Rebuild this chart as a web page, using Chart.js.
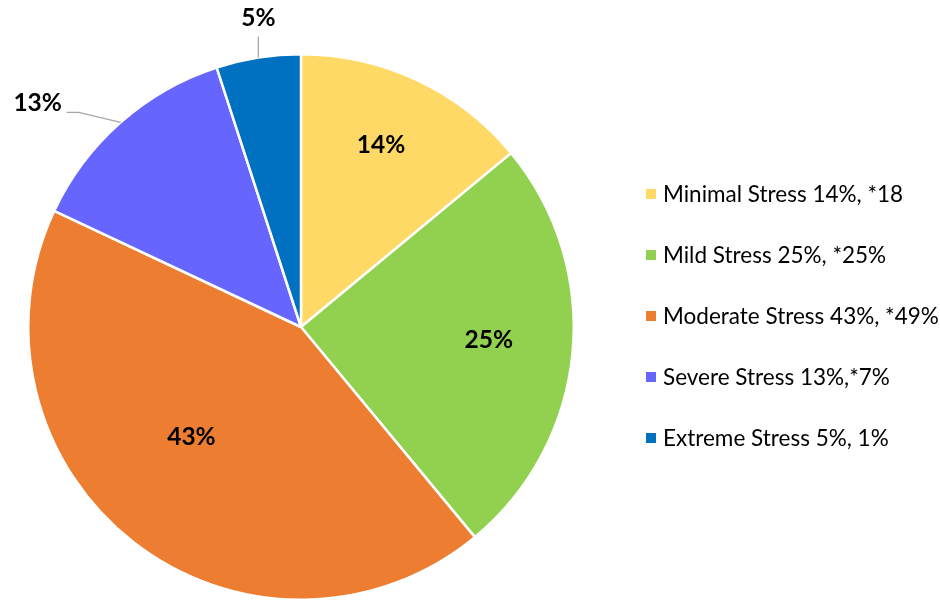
<!DOCTYPE html>
<html>
<head>
<meta charset="utf-8">
<script src="https://cdn.jsdelivr.net/npm/chart.js@4/dist/chart.umd.min.js"></script>
<style>
  html, body { margin: 0; padding: 0; background: #ffffff; }
  #wrap { width: 940px; height: 601px; }
</style>
</head>
<body>
<div id="wrap"><canvas id="pie" width="940" height="601"></canvas></div>
<script>
// Stress level distribution
const categories = ['Minimal Stress', 'Mild Stress', 'Moderate Stress', 'Severe Stress', 'Extreme Stress'];
const shares = [14, 25, 43, 13, 5];
const legendLabels = [
  'Minimal Stress 14%, *18',
  'Mild Stress 25%, *25%',
  'Moderate Stress 43%, *49%',
  'Severe Stress 13%,*7%',
  'Extreme Stress 5%, 1%'
];
const sliceColors = ['#FFD966', '#92D050', '#ED7D31', '#6666FF', '#0070C0'];

const FONT = 'Lato, "Open Sans", sans-serif';

// Value labels: inside slices for large shares, outside with leader lines for small ones
const sliceLabels = {
  id: 'sliceLabels',
  afterDatasetsDraw(chart, args, opts) {
    const ctx = chart.ctx;
    const meta = chart.getDatasetMeta(0);
    ctx.save();
    ctx.font = 'bold 24.5px ' + FONT;
    ctx.fillStyle = '#000000';
    ctx.textAlign = 'center';
    ctx.textBaseline = 'middle';
    meta.data.forEach((arc, i) => {
      const p = arc.getProps(['x', 'y', 'startAngle', 'endAngle', 'outerRadius'], true);
      const mid = (p.startAngle + p.endAngle) / 2;
      const text = shares[i] + '%';
      const place = opts.placement[i];
      if (place.inside) {
        const a = mid + place.da * Math.PI / 180;
        const r = p.outerRadius * place.rf;
        ctx.fillText(text, p.x + Math.cos(a) * r, p.y + Math.sin(a) * r);
      } else {
        const ex = p.x + Math.cos(mid) * p.outerRadius;
        const ey = p.y + Math.sin(mid) * p.outerRadius;
        ctx.strokeStyle = '#a6a6a6';
        ctx.lineWidth = 1.3;
        ctx.beginPath();
        ctx.moveTo(ex, ey);
        place.path.forEach(([dx, dy]) => ctx.lineTo(ex + dx, ey + dy));
        ctx.stroke();
        ctx.fillText(text, ex + place.tx, ey + place.ty);
      }
    });
    ctx.restore();
  }
};

// Legend drawn at the right of the pie
const sideLegend = {
  id: 'sideLegend',
  afterDraw(chart, args, opts) {
    const ctx = chart.ctx;
    ctx.save();
    ctx.font = '22.5px ' + FONT;
    ctx.textBaseline = 'middle';
    ctx.textAlign = 'left';
    legendLabels.forEach((label, i) => {
      const y = opts.top + i * opts.step;
      ctx.fillStyle = sliceColors[i];
      ctx.fillRect(opts.left, y - 5, 10, 10);
      ctx.fillStyle = '#000000';
      ctx.fillText(label, opts.left + 17, y + 1);
    });
    ctx.restore();
  }
};

new Chart(document.getElementById('pie'), {
  type: 'pie',
  data: {
    labels: categories,
    datasets: [{
      data: shares,
      backgroundColor: sliceColors,
      borderColor: '#ffffff',
      borderWidth: 2.5,
      hoverOffset: 0
    }]
  },
  options: {
    responsive: false,
    animation: false,
    layout: { padding: { left: 26, right: 364, top: 53, bottom: 0 } },
    plugins: {
      legend: { display: false },
      tooltip: { enabled: false },
      sliceLabels: {
        placement: [
          { inside: true, rf: 0.73, da: -1.5 },
          { inside: true, rf: 0.69, da: -1.5 },
          { inside: true, rf: 0.57, da: 7 },
          { inside: false, path: [[-42, -10], [-54, -10]], tx: -83, ty: -19 },
          { inside: false, path: [[0, -21]], tx: 0, ty: -40 }
        ]
      },
      sideLegend: { left: 646, top: 194, step: 61 }
    }
  },
  plugins: [sliceLabels, sideLegend]
});
</script>
</body>
</html>
